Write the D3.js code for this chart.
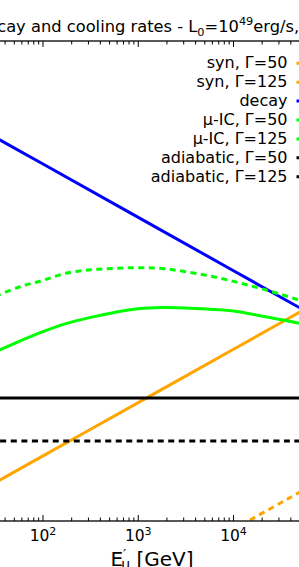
<!DOCTYPE html>
<html>
<head>
<meta charset="utf-8">
<script src="https://cdn.jsdelivr.net/npm/d3@7"></script>
<style>
  html, body { margin: 0; padding: 0; background: #fff; overflow: hidden; }
  svg { display: block; font-family: 'DejaVu Sans', sans-serif; }
</style>
</head>
<body>
<script>
'use strict';

// power-law rates, read at every decade of E'_mu [GeV]
const energies = [10, 100, 1000, 10000, 100000];
const decay = [4930, 493, 49.3, 4.93, 0.493];
const synG50 = [1.66e-4, 1.66e-3, 0.0166, 0.166, 1.66];
const synG125 = [7.0e-8, 7.0e-7, 7.0e-6, 7.0e-5, 7.0e-4];
const adiabaticG50 = [0.0202, 0.0202, 0.0202, 0.0202, 0.0202];
const adiabaticG125 = [0.00316, 0.00316, 0.00316, 0.00316, 0.00316];

// inverse Compton rates, read on a quarter-decade grid
const icEnergies = [31.6, 56.2, 100, 178, 316, 562, 1000, 1780, 3160, 5620, 10000, 17800, 31600, 56200, 100000];
const icG50 = [0.148, 0.234, 0.356, 0.507, 0.658, 0.815, 0.957, 1.007, 0.991, 0.935, 0.863, 0.723, 0.596, 0.484, 0.381];
const icG125 = [1.63, 2.44, 3.26, 4.47, 5.15, 5.45, 5.62, 5.43, 4.71, 3.93, 3.11, 2.38, 1.77, 1.28, 0.91];

const xTicks = [10, 100, 1000, 10000, 100000];
const xTickLabels = ['1', '2', '3', '4', '5'];
const legendLabels = ['syn, Γ=50', 'syn, Γ=125', 'decay', 'μ-IC, Γ=50', 'μ-IC, Γ=125', 'adiabatic, Γ=50', 'adiabatic, Γ=125'];

const W = 299, H = 567;
const plot = { left: -52.25, right: 328.75, top: 41, bottom: 521 };

const x = d3.scaleLog().domain([10, 1e5]).range([plot.left, plot.right]);
const y = d3.scaleLog().domain([1e-4, 1e5]).range([plot.bottom, plot.top]);

const series = [
  { label: legendLabels[0], xs: energies, ys: synG50, color: '#ffa500', dash: null },
  { label: legendLabels[1], xs: energies, ys: synG125, color: '#ffa500', dash: '6,4.5' },
  { label: legendLabels[2], xs: energies, ys: decay, color: '#0000ff', dash: null },
  { label: legendLabels[3], xs: icEnergies, ys: icG50, color: '#00ff00', dash: null },
  { label: legendLabels[4], xs: icEnergies, ys: icG125, color: '#00ff00', dash: '6,4.5' },
  { label: legendLabels[5], xs: energies, ys: adiabaticG50, color: '#000000', dash: null },
  { label: legendLabels[6], xs: energies, ys: adiabaticG125, color: '#000000', dash: '6,4.5' }
];

const svg = d3.select('body').append('svg')
  .attr('width', W).attr('height', H)
  .attr('viewBox', `0 0 ${W} ${H}`);

svg.append('defs').append('clipPath')
  .attr('id', 'plotClip')
  .append('rect')
    .attr('x', plot.left).attr('y', plot.top)
    .attr('width', plot.right - plot.left)
    .attr('height', plot.bottom - plot.top);

// curves
const line = d3.line()
  .x(d => x(d[0]))
  .y(d => y(d[1]))
  .curve(d3.curveCatmullRom);

const curves = svg.append('g').attr('clip-path', 'url(#plotClip)');
series.forEach(s => {
  curves.append('path')
    .attr('d', line(s.xs.map((e, i) => [e, s.ys[i]])))
    .attr('fill', 'none')
    .attr('stroke', s.color)
    .attr('stroke-width', 3)
    .attr('stroke-dasharray', s.dash);
});

// frame
svg.append('rect')
  .attr('x', plot.left).attr('y', plot.top)
  .attr('width', plot.right - plot.left)
  .attr('height', plot.bottom - plot.top)
  .attr('fill', 'none')
  .attr('stroke', '#000')
  .attr('stroke-width', 1.3);

// ticks, pointing inward on top and bottom
const minorTicks = [];
xTicks.slice(0, -1).forEach(t => {
  for (let m = 2; m <= 9; m++) minorTicks.push(t * m);
});

const appendTicks = (g, values, len, dir) => {
  g.selectAll(null)
    .data(values)
    .join('line')
      .attr('x1', d => x(d)).attr('x2', d => x(d))
      .attr('y1', 0).attr('y2', dir * len)
      .attr('stroke', '#000')
      .attr('stroke-width', 1);
};

const bottomTicks = svg.append('g').attr('transform', `translate(0, ${plot.bottom})`);
appendTicks(bottomTicks, xTicks, 6, -1);
appendTicks(bottomTicks, minorTicks, 3.5, -1);
const topTicks = svg.append('g').attr('transform', `translate(0, ${plot.top})`);
appendTicks(topTicks, xTicks, 6, 1);
appendTicks(topTicks, minorTicks, 3.5, 1);

// tick labels 10^n
xTicks.forEach((t, i) => {
  const lbl = svg.append('text')
    .attr('x', x(t)).attr('y', 541)
    .attr('text-anchor', 'middle')
    .attr('font-size', 15.5)
    .attr('fill', '#000');
  lbl.append('tspan').text('10');
  lbl.append('tspan')
    .attr('dy', -6.5)
    .attr('font-size', 11)
    .text(xTickLabels[i]);
});

// axis label
const xl = svg.append('text')
  .attr('x', 152).attr('y', 566)
  .attr('text-anchor', 'middle')
  .attr('font-size', 20)
  .attr('fill', '#000');
xl.append('tspan').text('E');
xl.append('tspan').attr('dy', -7).attr('font-size', 14).text('′');
xl.append('tspan').attr('dx', -5).attr('dy', 10).attr('font-size', 14).text('μ');
xl.append('tspan').attr('dy', -3).text(' [GeV]');

// title, clipped by the window on both sides
const title = svg.append('text')
  .attr('x', 0).attr('y', 32.3)
  .attr('font-size', 16.3)
  .attr('fill', '#000');
title.append('tspan').text('Muon decay and cooling rates - L');
title.append('tspan').attr('dy', 4).attr('font-size', 11.3).text('0');
title.append('tspan').attr('dy', -4).text('=10');
title.append('tspan').attr('dy', -7).attr('font-size', 11.3).text('49');
title.append('tspan').attr('dy', 7).text('erg/s, ');
const tNode = title.node();
const sIdx = tNode.textContent.indexOf('erg/s') + 4;
const sEnd = tNode.getEndPositionOfChar(sIdx).x;
title.attr('x', 294 - sEnd);

// legend
const legend = svg.append('g');
series.forEach((s, i) => {
  const by = 68.3 + i * 18.9;
  legend.append('text')
    .attr('x', 287.5).attr('y', by)
    .attr('text-anchor', 'end')
    .attr('font-size', 16)
    .attr('fill', '#000')
    .text(s.label);
  legend.append('line')
    .attr('x1', 296.5).attr('x2', 330)
    .attr('y1', by - 5).attr('y2', by - 5)
    .attr('stroke', s.color)
    .attr('stroke-width', 3)
    .attr('stroke-dasharray', s.dash);
});
</script>
</body>
</html>
